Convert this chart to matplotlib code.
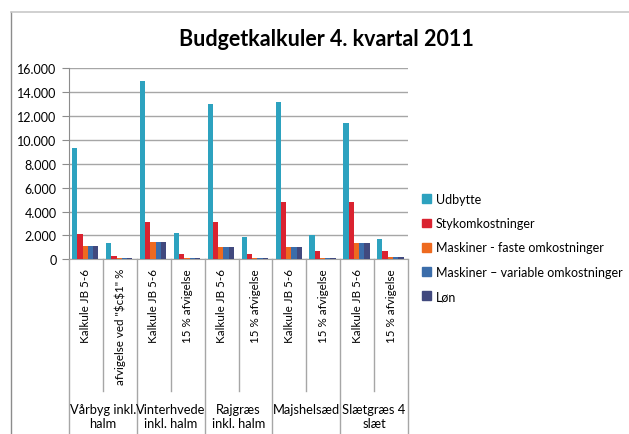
import matplotlib
matplotlib.use("Agg")
import matplotlib.pyplot as plt
from matplotlib.lines import Line2D
import numpy as np

plt.rcParams['font.family'] = ['Lato', 'DejaVu Sans']

title = "Budgetkalkuler 4. kvartal 2011"
sub_labels = ["Kalkule JB 5-6", 'afvigelse ved "\\$c\\$1" %',
              "Kalkule JB 5-6", "15 % afvigelse",
              "Kalkule JB 5-6", "15 % afvigelse",
              "Kalkule JB 5-6", "15 % afvigelse",
              "Kalkule JB 5-6", "15 % afvigelse"]
group_labels = ["Vårbyg inkl.\nhalm", "Vinterhvede\ninkl. halm", "Rajgræs\ninkl. halm",
                "Majshelsæd", "Slætgræs 4\nslæt"]
series_names = ["Udbytte", "Stykomkostninger", "Maskiner - faste omkostninger",
                "Maskiner \u2013 variable omkostninger", "Løn"]
udbytte = [9330, 1340, 14900, 2200, 13000, 1900, 13200, 2000, 11400, 1700]
stykomk = [2100, 270, 3100, 440, 3100, 440, 4780, 660, 4780, 660]
mask_faste = [1150, 150, 1450, 150, 1050, 90, 1050, 90, 1350, 170]
mask_variable = [1150, 150, 1450, 150, 1050, 90, 1050, 90, 1350, 170]
loen = [1150, 150, 1450, 150, 1050, 90, 1050, 90, 1350, 170]
yticks = [0, 2000, 4000, 6000, 8000, 10000, 12000, 14000, 16000]
ytick_labels = ["0", "2.000", "4.000", "6.000", "8.000", "10.000", "12.000", "14.000", "16.000"]

series = [udbytte, stykomk, mask_faste, mask_variable, loen]
colors = ["#2DA2BF", "#DA2330", "#EE6A1F", "#3B6DAA", "#41497E"]

W, H = 629, 435
fig = plt.figure(figsize=(W / 100, H / 100), dpi=100)

ax_l, ax_r, ax_t, ax_b = 69, 408, 69.3, 260.3
ax = fig.add_axes([ax_l / W, 1 - ax_b / H, (ax_r - ax_l) / W, (ax_b - ax_t) / H])

n = len(sub_labels)
x = np.arange(n)
bw = 0.155
offsets = (np.arange(5) - 2) * bw
for vals, off, c, name in zip(series, offsets, colors, series_names):
    ax.bar(x + off - 0.02, vals, width=bw, color=c, label=name, zorder=3)

ax.set_xlim(-0.5, n - 0.5)
ax.set_ylim(0, 16000)
ax.set_yticks(yticks)
ax.set_yticklabels(ytick_labels, fontsize=9)
ax.yaxis.grid(True, color="#A6A6A6", linewidth=1, zorder=0)
ax.set_axisbelow(True)
for s in ["top", "right"]:
    ax.spines[s].set_visible(False)
ax.spines["left"].set_color("#8C8C8C")
ax.spines["bottom"].set_color("#A6A6A6")
ax.tick_params(axis="y", length=5, color="#8C8C8C", pad=4)
ax.set_xticks([])

trans = ax.get_xaxis_transform()
px_per_axes = ax_b - ax_t
def ay(py):
    return (ax_b - py) / px_per_axes

for i, lab in enumerate(sub_labels):
    ax.text(i, ay(269), lab, transform=trans, rotation=90, ha="center", va="top",
            fontsize=8.4, color="#000000")

for b in range(n + 1):
    xb = b - 0.5
    if b % 2 == 0:
        y_end = ay(H + 5)
    else:
        y_end = ay(392)
    ax.add_line(Line2D([xb, xb], [0, y_end], transform=trans, color="#A6A6A6",
                       linewidth=1, clip_on=False))

for g, lab in enumerate(group_labels):
    ax.text(2 * g + 0.5, ay(404), lab, transform=trans, ha="center", va="top",
            fontsize=9.3, color="#000000", linespacing=1.25)

fig.text(326 / W, 1 - 40 / H, title, ha="center", va="center", fontsize=15.5,
         fontweight="bold", color="#000000")

handles = [plt.Rectangle((0, 0), 1, 1, color=c) for c in colors]
leg = fig.legend(handles, series_names, loc="upper left",
                 bbox_to_anchor=(422 / W, 1 - 194 / H), frameon=False,
                 fontsize=9, handlelength=0.7, handleheight=0.7, handletextpad=0.4,
                 labelspacing=0.98, borderaxespad=0, borderpad=0)

fig.add_artist(Line2D([11 / W, 11 / W], [1 - 13 / H, 0], transform=fig.transFigure,
                      color="#8C8C8C", linewidth=1))
fig.add_artist(Line2D([11 / W, 1], [1 - 13 / H, 1 - 13 / H], transform=fig.transFigure,
                      color="#C8C8C8", linewidth=1.2))

fig.savefig("out.png", dpi=100, facecolor="white")
